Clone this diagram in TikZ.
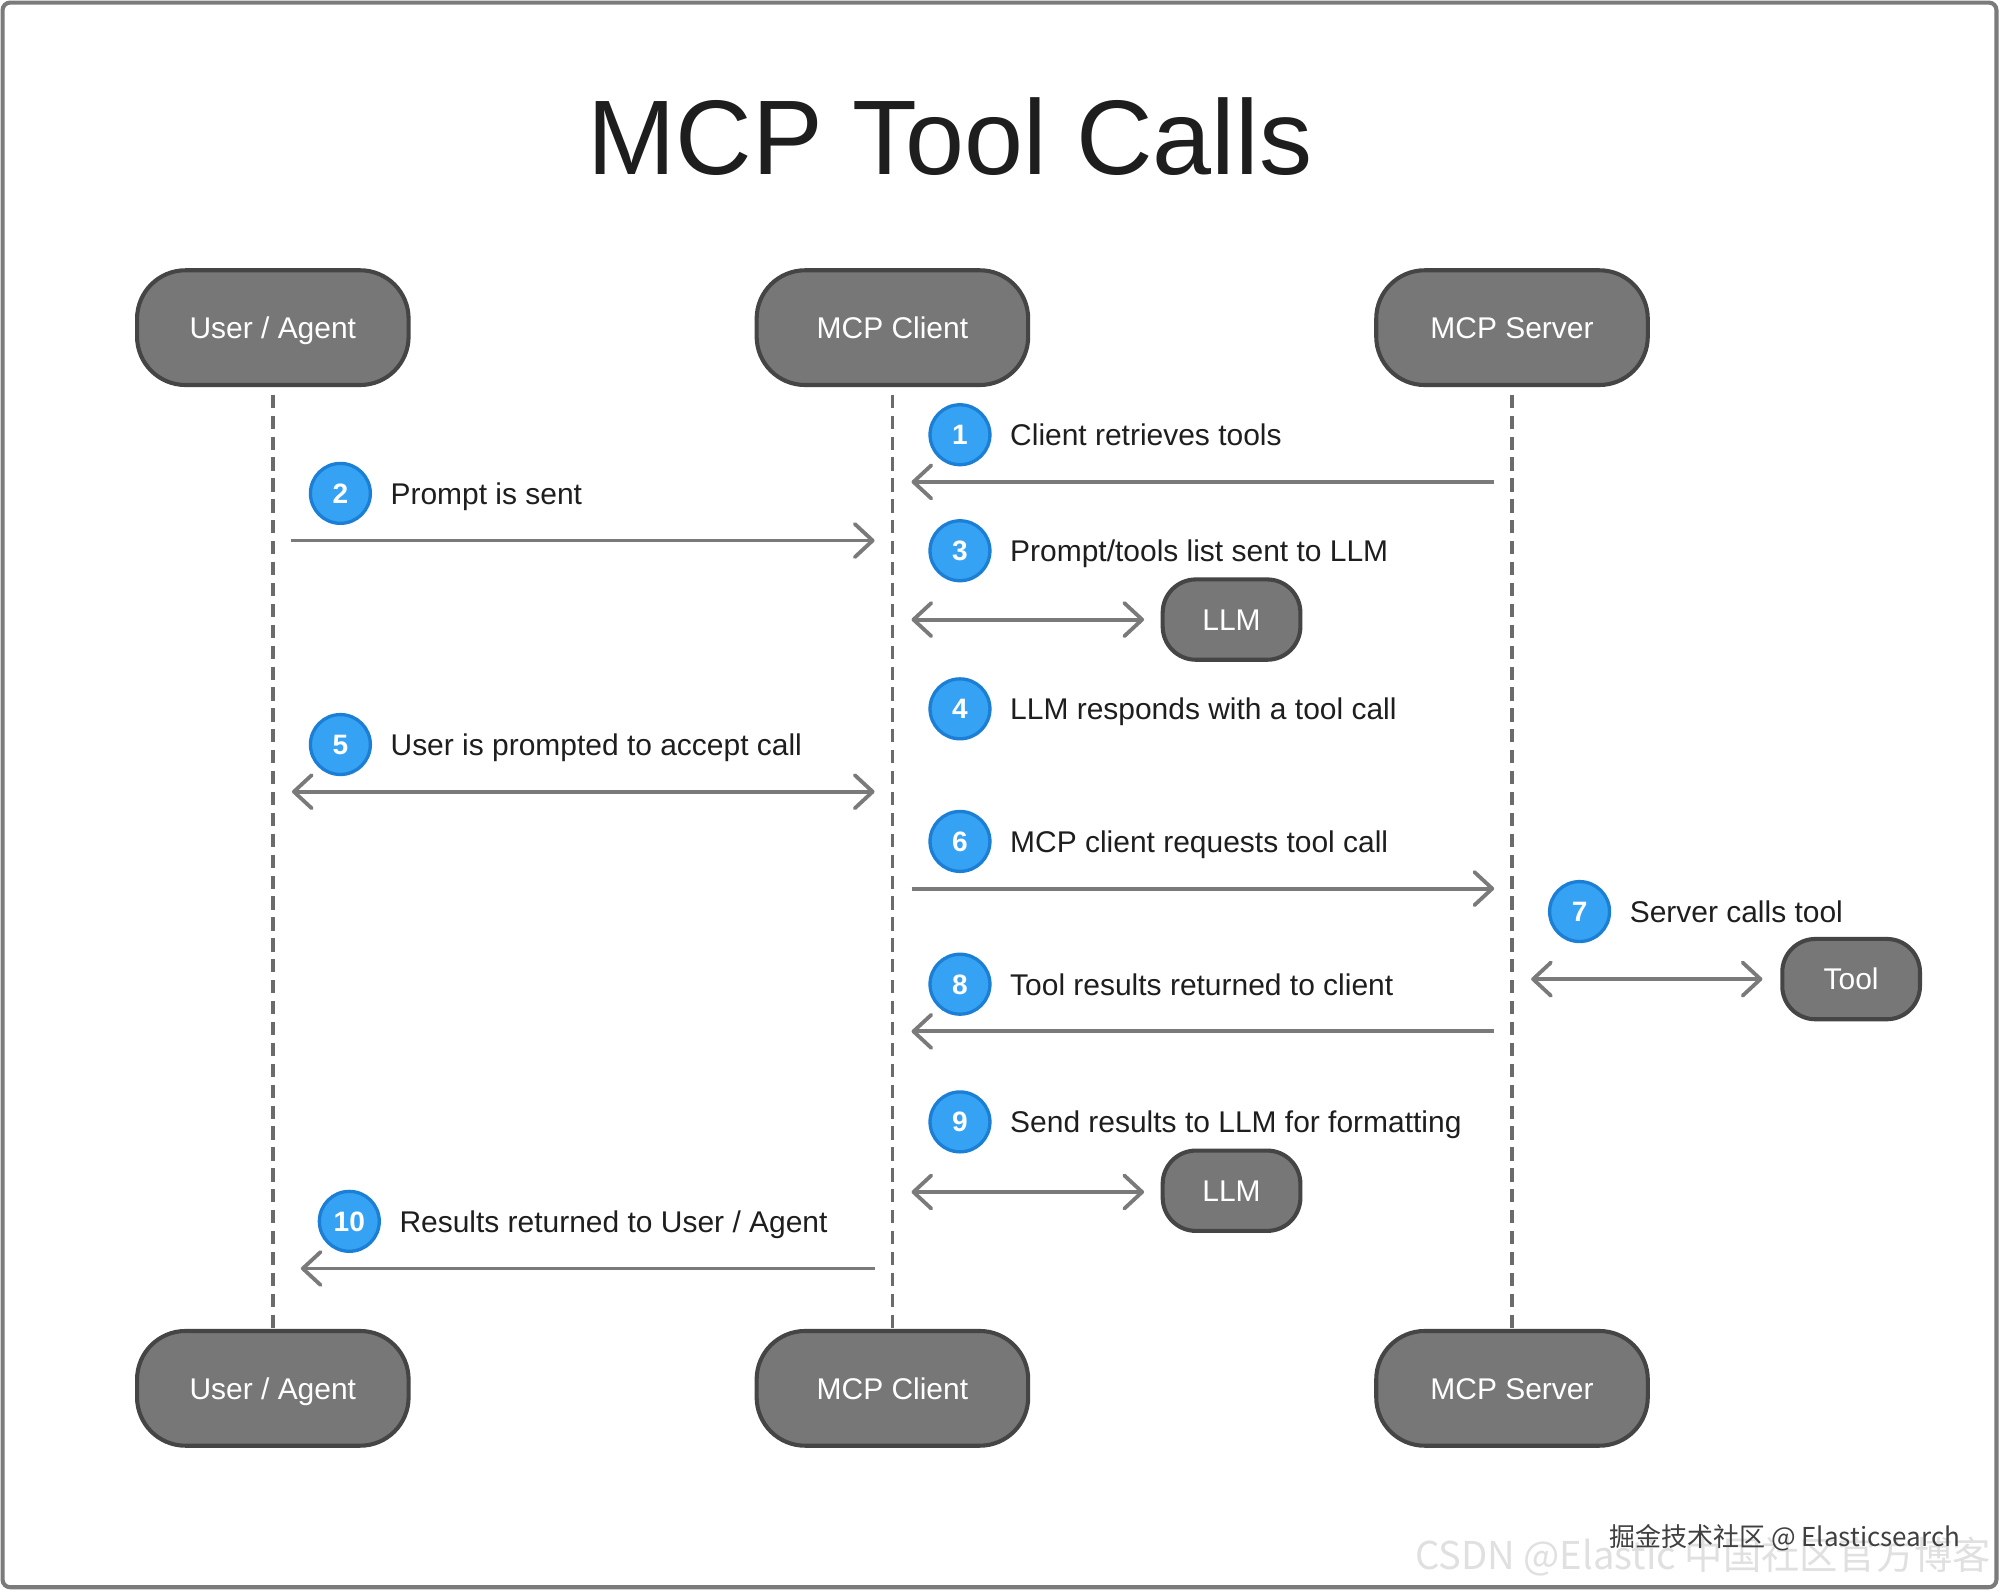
\documentclass[tikz,border=0pt]{standalone}
\usepackage{fontspec}
\setmainfont{Liberation Sans}
\newfontfamily\cjkfont{Noto Sans CJK SC}
\usetikzlibrary{arrows.meta}
\definecolor{boxfill}{HTML}{777777}
\definecolor{boxline}{HTML}{454545}
\definecolor{arrowcol}{HTML}{7A7A7A}
\definecolor{lifecol}{HTML}{6B6B6B}
\definecolor{badgefill}{HTML}{35A2F4}
\definecolor{badgeline}{HTML}{1B7FD6}
\definecolor{txt}{HTML}{1E1E1E}
\definecolor{framecol}{HTML}{7B7B7B}
\begin{document}
\begin{tikzpicture}[x=0.5pt,y=-0.5pt,
  actor/.style={draw=boxline, line width=1.6pt, fill=boxfill, rounded corners=19pt,
    minimum width=106.5pt, minimum height=45pt, text=white, font=\fontsize{11.75}{14}\selectfont,
    text height=8.5pt, text depth=0pt, inner sep=0pt},
  smallbox/.style={draw=boxline, line width=1.6pt, fill=boxfill, rounded corners=13pt,
    minimum width=54pt, minimum height=31.5pt, text=white, font=\fontsize{11.75}{14}\selectfont,
    text height=8.5pt, text depth=0pt, inner sep=0pt},
  badge/.style={circle, draw=badgeline, line width=1.3pt, fill=badgefill, minimum size=23.5pt,
    inner sep=0pt, text=white, font=\bfseries\fontsize{11}{13}\selectfont, text height=7.9pt, text depth=0pt},
  lbl/.style={anchor=base west, inner sep=0pt, text=txt, font=\fontsize{11.75}{14}\selectfont},
  lifeline/.style={draw=lifecol, line width=1.5pt, dash pattern=on 5.2pt off 3pt},
  msg/.style={draw=arrowcol, line width=1.5pt, -{Straight Barb[length=7pt,width=13pt,round]}},
  dmsg/.style={draw=arrowcol, line width=1.5pt, {Straight Barb[length=7pt,width=13pt,round]}-{Straight Barb[length=7pt,width=13pt,round]}}
]
\useasboundingbox (0,0) rectangle (1568,1247);
\fill[white] (0,0) rectangle (1568,1247);
\draw[framecol, line width=1.6pt, rounded corners=3pt] (2,2) rectangle (1566,1245);

\node[anchor=base, inner sep=0pt, text=txt, font=\fontsize{41.6}{48}\selectfont] (title) at (745,137) {MCP Tool Calls};

% actors
\node[actor] (ua) at (214,257) {User / Agent};
\node[actor] (mc) at (700,257) {MCP Client};
\node[actor] (ms) at (1186,257) {MCP Server};
\node[actor] (ua2) at (214,1089) {User / Agent};
\node[actor] (mc2) at (700,1089) {MCP Client};
\node[actor] (ms2) at (1186,1089) {MCP Server};

% lifelines
\draw[lifeline] ([yshift=-3pt]ua.south) -- (ua2.north);
\draw[lifeline] ([yshift=-3pt]mc.south) -- (mc2.north);
\draw[lifeline] ([yshift=-3pt]ms.south) -- (ms2.north);

% coordinates on lifelines
\coordinate (s1) at (1172,378); \coordinate (c1) at (715,378);
\coordinate (u2) at (228,424);  \coordinate (c2) at (686,424);
\coordinate (c3) at (715,486);
\coordinate (u5) at (229,621);  \coordinate (c5) at (686,621);
\coordinate (c6) at (715,697);  \coordinate (s6) at (1172,697);
\coordinate (s7) at (1201,768);
\coordinate (s8) at (1172,809); \coordinate (c8) at (715,809);
\coordinate (c9) at (715,935);
\coordinate (c10) at (686,995); \coordinate (u10) at (236,995);

% side boxes
\node[smallbox] (llm1) at (966,486) {LLM};
\node[smallbox] (tool) at (1452,768) {Tool};
\node[smallbox] (llm2) at (966,934) {LLM};

% messages
\draw[msg] (s1) -- (c1);
\draw[msg] (u2) -- (c2);
\draw[dmsg] (c3) -- ([xshift=-6.5pt]llm1.west);
\draw[dmsg] (u5) -- (c5);
\draw[msg] (c6) -- (s6);
\draw[dmsg] (s7) -- ([xshift=-7pt]tool.west);
\draw[msg] (s8) -- (c8);
\draw[dmsg] (c9) -- ([xshift=-6.5pt,yshift=-0.5pt]llm2.west);
\draw[msg] (c10) -- (u10);

% badges and labels
\node[badge] (b1) at (753,341) {1};
\node[lbl] (l1) at (792,349.5) {Client retrieves tools};
\node[badge] (b2) at (267,387) {2};
\node[lbl] (l2) at (306,395.5) {Prompt is sent};
\node[badge] (b3) at (753,432) {3};
\node[lbl] (l3) at (792,440.5) {Prompt/tools list sent to LLM};
\node[badge] (b4) at (753,556) {4};
\node[lbl] (l4) at (792,564.5) {LLM responds with a tool call};
\node[badge] (b5) at (267,584) {5};
\node[lbl] (l5) at (306,592.5) {User is prompted to accept call};
\node[badge] (b6) at (753,660) {6};
\node[lbl] (l6) at (792,668.5) {MCP client requests tool call};
\node[badge] (b7) at (1239,715) {7};
\node[lbl] (l7) at (1278,723.5) {Server calls tool};
\node[badge] (b8) at (753,772) {8};
\node[lbl] (l8) at (792,780.5) {Tool results returned to client};
\node[badge] (b9) at (753,880) {9};
\node[lbl] (l9) at (792,888.5) {Send results to LLM for formatting};
\node[badge] (b10) at (274,958) {10};
\node[lbl] (l10) at (313,966.5) {Results returned to User / Agent};

% watermarks
\node[anchor=base east, inner sep=0pt, text=black!12, font=\cjkfont\fontsize{15}{18}\selectfont] (wm2) at (1562,1231) {CSDN @Elastic 中国社区官方博客};
\node[anchor=base east, inner sep=0pt, text=black!75, font=\cjkfont\fontsize{10.2}{12}\selectfont] (wm1) at (1538,1213) {掘金技术社区 @ Elasticsearch};
\end{tikzpicture}
\end{document}
